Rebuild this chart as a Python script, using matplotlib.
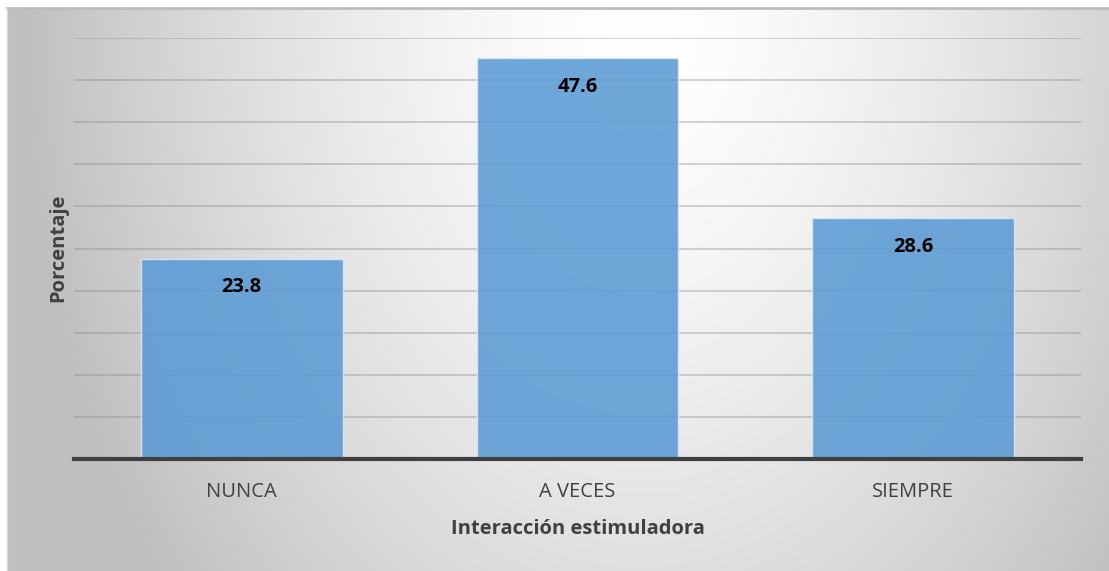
import numpy as np
import matplotlib
matplotlib.use("Agg")
import matplotlib.pyplot as plt

categories = ["NUNCA", "A VECES", "SIEMPRE"]
values = [23.8, 47.6, 28.6]
y_max = 50
y_step = 5

plt.rcParams['font.family'] = ['Open Sans', 'DejaVu Sans']

W, H = 1109, 571
fig = plt.figure(figsize=(W / 100, H / 100), dpi=100)
fig.patch.set_facecolor("white")

# background gradient for the chart area
bx0, by0, bx1, by1 = 7, 8, 1109, 571
bg = fig.add_axes([bx0 / W, 1 - by1 / H, (bx1 - bx0) / W, (by1 - by0) / H])
xx, yy = np.meshgrid(np.linspace(bx0, bx1, 440), np.linspace(by0, by1, 230))
d = np.sqrt((xx - 640) ** 2 + ((yy - 20) * 0.7) ** 2)
g = 1.0 - 0.25 * np.minimum(d / 620.0, 1.0) ** 1.5
bg.imshow(np.dstack([g, g, g]), aspect="auto", extent=[0, 1, 0, 1], origin="upper")
bg.set_xticks([]); bg.set_yticks([])
for s in bg.spines.values():
    s.set_visible(False)
bg.plot([0, 1], [1, 1], transform=bg.transAxes, color="#bcbcbc", linewidth=2, clip_on=False)
bg.plot([0, 0], [0, 1], transform=bg.transAxes, color="#d8d8d8", linewidth=1, clip_on=False)

# plot area
px0, px1, ptop, pbase = 74, 1081, 38, 459
ax = fig.add_axes([px0 / W, 1 - pbase / H, (px1 - px0) / W, (pbase - ptop) / H])
ax.set_facecolor("none")
x = np.arange(len(categories))
ax.set_xlim(-0.5, len(categories) - 0.5)
ax.set_ylim(0, y_max)
ax.set_yticks(np.arange(0, y_max + 0.1, y_step))
ax.yaxis.grid(True, color="#8c8c8c", alpha=0.45, linewidth=1.2)
ax.set_axisbelow(True)
ax.tick_params(axis="y", left=False, labelleft=False)
ax.tick_params(axis="x", bottom=False, labelsize=14.5, labelcolor="#404040", pad=13)
for k in ["top", "right", "left"]:
    ax.spines[k].set_visible(False)
ax.spines["bottom"].set_color("#404040")
ax.spines["bottom"].set_linewidth(3)
ax.spines["bottom"].set_zorder(5)

bars = ax.bar(x, values, width=0.6, color="#5b9bd5", alpha=0.88,
              edgecolor="#dce9f5", linewidth=1.0, zorder=3)
ax.set_xticks(x)
ax.set_xticklabels(categories)

for xi, v in zip(x, values):
    ax.annotate(f"{v:.1f}", xy=(xi, v), xytext=(0, -20.5), textcoords="offset points",
                ha="center", va="center", fontsize=14.5, fontweight="bold",
                color="black", zorder=6)

ax.set_xlabel("Interacción estimuladora", fontsize=14.5, fontweight="bold",
              color="#404040", labelpad=12)
fig.text(58 / W, 1 - 248 / H, "Porcentaje", rotation=90, ha="center", va="center",
         fontsize=14.5, fontweight="bold", color="#404040")

fig.savefig("out.png", dpi=100)
